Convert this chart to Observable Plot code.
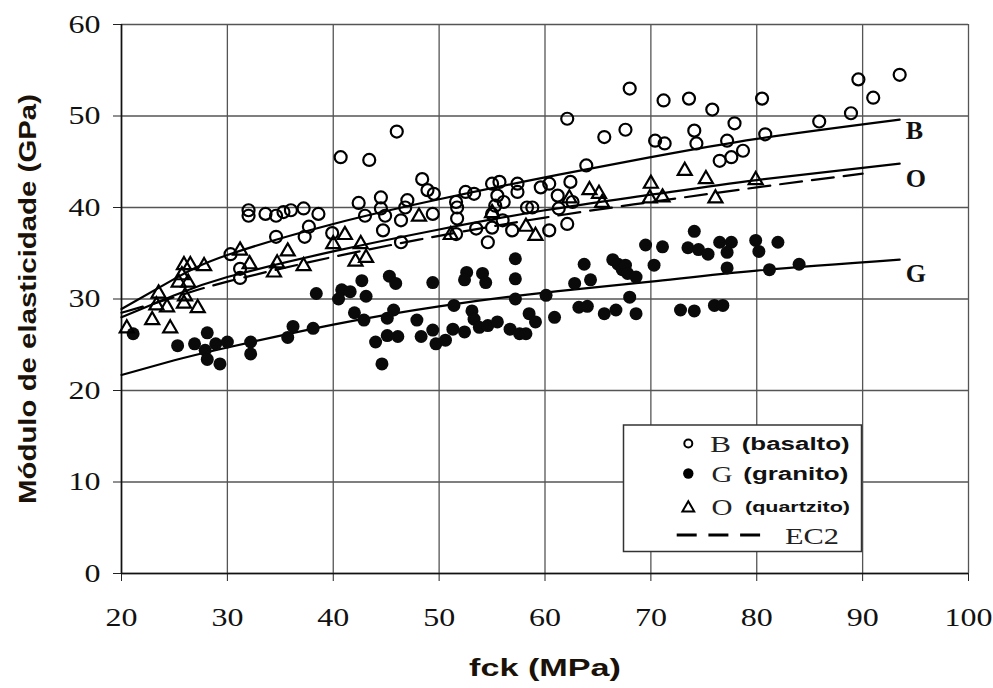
<!DOCTYPE html>
<html><head><meta charset="utf-8">
<script src="https://cdn.jsdelivr.net/npm/d3@7"></script>
<script src="https://cdn.jsdelivr.net/npm/@observablehq/plot@0.6"></script>
<style>body{margin:0;background:#fff} #chart{width:993px;height:688px}</style>
</head><body><div id="chart"></div>
<script>
const xTicks = [20, 30, 40, 50, 60, 70, 80, 90, 100];
const yTicks = [0, 10, 20, 30, 40, 50, 60];
const xTitle = "fck (MPa)";
const yTitle = "Módulo de elasticidade (GPa)";

// B (basalto) open circles: [fck, E]
const basalto = [
 [30.3,34.9],[31.2,33.3],[31.2,32.3],[32.0,39.7],[32.0,39.1],[33.6,39.3],[34.6,39.1],[35.3,39.5],
 [36.0,39.7],[37.2,39.9],[38.6,39.3],[34.6,36.8],[37.7,37.9],[37.3,36.8],[39.9,37.2],[40.7,45.5],
 [43.4,45.2],[46.0,48.3],[42.4,40.5],[43.0,39.1],[44.5,41.1],[44.5,39.9],[44.9,39.1],[44.7,37.5],
 [46.4,38.6],[46.4,36.2],[47.0,40.8],[46.8,40.0],[48.4,43.1],[48.9,41.9],[49.5,41.5],[49.4,39.3],
 [51.6,40.6],[51.7,40.0],[51.7,38.8],[51.6,37.1],[52.5,41.7],[53.3,41.5],[53.5,37.7],[54.6,36.2],
 [55.0,42.6],[55.7,42.8],[55.5,41.3],[55.3,40.2],[55.0,39.3],[55.0,37.8],[57.4,42.6],[57.4,41.7],
 [56.1,40.6],[56.0,38.6],[56.9,37.5],[58.3,40.0],[58.8,40.0],[59.6,42.2],[60.4,42.6],[61.2,41.3],
 [61.3,39.9],[62.4,42.8],[62.6,40.6],[60.4,37.5],[62.1,38.2],[63.9,44.6],[65.6,47.7],[67.6,48.5],
 [70.4,47.3],[71.3,47.0],[62.1,49.7],[68.0,53.0],[71.2,51.7],[73.6,51.9],[75.8,50.7],[80.5,51.9],
 [74.1,48.4],[74.3,47.0],[77.9,49.2],[77.2,47.3],[76.5,45.1],[77.6,45.5],[78.7,46.2],[80.8,48.0],
 [85.9,49.4],[88.9,50.3],[89.6,54.0],[91.0,52.0],[93.5,54.5]
];
// G (granito) filled circles
const granito = [
 [21.1,26.2],[25.3,24.9],[26.9,25.1],[28.1,26.3],[27.9,24.4],[28.1,23.4],[29.3,22.9],[28.9,25.1],
 [30.0,25.3],[32.2,25.3],[32.2,24.0],[35.7,25.8],[36.2,27.0],[38.1,26.8],[38.4,30.6],[40.8,31.0],
 [40.5,30.0],[41.6,30.8],[42.7,32.0],[43.1,30.3],[42.0,28.5],[42.9,27.7],[45.3,32.5],[45.9,31.7],
 [45.7,28.8],[45.1,27.9],[44.0,25.3],[45.1,26.0],[46.1,25.9],[44.6,22.9],[47.9,27.7],[48.3,25.9],
 [49.4,26.6],[49.7,25.1],[49.4,31.8],[50.6,25.5],[51.3,26.7],[51.4,29.3],[52.4,26.4],[52.6,32.9],
 [52.4,32.1],[53.1,28.7],[53.3,27.8],[54.1,32.8],[54.4,31.8],[53.8,26.9],[54.6,27.1],[55.5,27.5],
 [57.2,34.4],[57.2,32.2],[57.2,30.0],[56.7,26.7],[57.6,26.2],[58.2,26.2],[58.5,28.4],[59.1,27.5],
 [60.1,30.4],[60.9,28.0],[62.8,31.7],[63.7,33.8],[64.3,32.1],[63.2,29.1],[64.0,29.2],[65.6,28.4],
 [66.7,28.8],[66.4,34.3],[66.9,33.8],[67.3,33.2],[67.6,33.7],[67.8,32.8],[68.6,32.4],[68.0,30.2],
 [68.6,28.4],[69.5,35.9],[71.1,35.7],[70.3,33.7],[72.8,28.8],[74.1,28.7],[73.5,35.6],[74.1,37.4],
 [74.5,35.4],[75.4,34.9],[76.5,36.2],[77.6,36.2],[77.2,35.1],[79.9,36.4],[80.2,35.2],[82.0,36.2],
 [77.2,33.4],[81.2,33.2],[84.0,33.8],[76.0,29.3],[76.8,29.3]
];
// O (quartzito) triangles
const quartzito = [
 [20.5,26.8],[22.9,27.7],[24.6,26.8],[23.3,29.3],[24.3,29.1],[23.5,30.6],[25.9,29.5],[27.2,29.0],
 [26.0,30.3],[25.4,31.8],[26.3,31.8],[25.7,32.6],[25.9,33.7],[26.5,33.7],[27.8,33.6],[31.2,35.3],
 [32.1,33.8],[34.7,33.9],[34.4,32.9],[35.7,35.2],[37.2,33.6],[40.0,36.0],[41.1,37.0],[42.6,36.0],
 [42.1,34.1],[43.1,34.5],[48.1,39.0],[51.1,37.0],[55.0,39.4],[58.2,37.9],[59.1,36.9],[62.3,41.0],
 [64.2,41.9],[65.1,41.5],[65.4,40.5],[70.0,42.6],[69.9,41.0],[71.1,41.1],[73.2,44.0],[75.2,43.1],
 [76.1,41.0],[79.9,43.0]
];
// fitted curves
const curveFck = [20, 25, 30, 40, 50, 60, 70, 80, 93.5];
const curveB = [28.9, 32.2, 34.8, 38.2, 40.9, 43.3, 45.5, 47.5, 49.6];
const curveO = [28.0, 30.4, 32.4, 35.2, 37.6, 39.7, 41.4, 43.0, 44.8];
const curveG = [21.7, 23.3, 24.7, 27.2, 29.2, 30.7, 31.9, 33.1, 34.3];
const ec2Fck = [20, 25, 30, 40, 50, 60, 70, 80, 90];
const ec2E = [28.5, 30.2, 31.9, 34.6, 36.9, 38.9, 40.6, 42.2, 43.7];
const curveLabels = ["B", "O", "G"];
const legendSymbols = ["circle", "dot", "triangle", "dash"];
const legendLetters = ["B", "G", "O", "EC2"];
const legendNames = ["(basalto)", "(granito)", "(quartzito)", ""];

const toPts = (xs, ys) => xs.map((x, i) => ({fck: x, E: ys[i]}));
const pairs = a => a.map(([fck, E]) => ({fck, E}));
const curves = [curveB, curveO, curveG].map(c => toPts(curveFck, c));
const labelDy = [11, 15, 14];

const serif = "Liberation Serif";
const sans = "Liberation Sans";

const plot = Plot.plot({
  width: 993, height: 688,
  marginLeft: 121, marginRight: 25, marginTop: 24, marginBottom: 115,
  style: {fontFamily: serif, fontSize: "25px", color: "#000", background: "#fff"},
  x: {domain: [20, 100], ticks: xTicks},
  y: {domain: [0, 60], ticks: yTicks},
  marks: [
    Plot.gridX(xTicks, {stroke: "#555", strokeOpacity: 1, strokeWidth: 1.3}),
    Plot.gridY(yTicks, {stroke: "#555", strokeOpacity: 1, strokeWidth: 1.3}),
    Plot.axisX(xTicks, {tickSize: 8, tickFormat: () => "", label: null, stroke: "#222"}),
    Plot.axisY(yTicks, {tickSize: 8, tickFormat: () => "", label: null, stroke: "#222"}),
    Plot.text(xTicks, {x: d => d, y: 0, text: d => String(d), dy: 44, fontFamily: serif, fontSize: 25, fill: "#111"}),
    Plot.text(yTicks, {x: 20, y: d => d, text: d => String(d), dx: -21, textAnchor: "end", fontFamily: serif, fontSize: 25, fill: "#111"}),
    Plot.ruleX([20], {stroke: "#111", strokeWidth: 1.6}),
    Plot.ruleY([0], {stroke: "#111", strokeWidth: 1.6}),
    ...curves.map(c => Plot.line(c, {x: "fck", y: "E", curve: "natural", stroke: "#000", strokeWidth: 2.2})),
    Plot.line(toPts(ec2Fck, ec2E), {x: "fck", y: "E", curve: "natural", stroke: "#000", strokeWidth: 2.2, strokeDasharray: "22,10"}),
    Plot.dot(pairs(basalto), {x: "fck", y: "E", r: 6, stroke: "#000", strokeWidth: 2.2, fill: "none"}),
    Plot.dot(pairs(granito), {x: "fck", y: "E", r: 6.5, fill: "#0a0a0a", stroke: "none"}),
    Plot.dot(pairs(quartzito), {x: "fck", y: "E", r: 5.2, symbol: "triangle", stroke: "#000", strokeWidth: 2.2, fill: "none"}),
    ...curves.map((c, i) => Plot.text([c[c.length - 1]], {x: "fck", y: "E", text: () => curveLabels[i], dx: 6, dy: labelDy[i], textAnchor: "start", fontFamily: serif, fontWeight: "bold", fontSize: 26, fill: "#111"})),
    Plot.text([yTitle], {frameAnchor: "left", textAnchor: "middle", dx: -93, rotate: -90, fontFamily: sans, fontWeight: "bold", fontSize: 23, fill: "#1a1208"}),
    Plot.text([xTitle], {frameAnchor: "bottom", textAnchor: "middle", dy: 102, fontFamily: sans, fontWeight: "bold", fontSize: 24, fill: "#1a1208"})
  ]
});
document.getElementById("chart").appendChild(plot);

const svg = d3.select(plot);
function stretch(el, target) {
  el.setAttribute("textLength", target);
  el.setAttribute("lengthAdjust", "spacingAndGlyphs");
}
// tick labels horizontally stretched like the reference
const tickStrings = new Set([...xTicks, ...yTicks].map(String));
svg.selectAll("text").each(function() {
  const t = this.textContent.trim();
  if (tickStrings.has(t)) stretch(this, t.length * 16);
  if (t === xTitle) stretch(this, 152);
  if (t === yTitle) stretch(this, 410);
});

// legend box
const lg = svg.append("g").attr("aria-label", "legend").attr("text-anchor", "start");
lg.append("rect").attr("x", 623.5).attr("y", 425).attr("width", 238).attr("height", 126.5)
  .attr("fill", "#fff").attr("stroke", "#333").attr("stroke-width", 1.5);
const rowY = [443.5, 473.5, 508, 535];
const baseY = [451.5, 481.5, 515, 543.5];
const nameBase = [450, 480, 511.5];
legendSymbols.forEach((s, i) => {
  const y = rowY[i];
  if (s === "circle") lg.append("circle").attr("cx", 688.3).attr("cy", y).attr("r", 4).attr("fill", "none").attr("stroke", "#000").attr("stroke-width", 2);
  if (s === "dot") lg.append("circle").attr("cx", 688.3).attr("cy", y).attr("r", 5.2).attr("fill", "#000");
  if (s === "triangle") lg.append("path").attr("d", d3.symbol(d3.symbolTriangle, 60)()).attr("transform", `translate(688.3,${y})`).attr("fill", "none").attr("stroke", "#000").attr("stroke-width", 2);
  if (s === "dash") lg.append("line").attr("x1", 676.7).attr("x2", 764).attr("y1", y).attr("y2", y).attr("stroke", "#000").attr("stroke-width", 3).attr("stroke-dasharray", "20,11.7");
});
const letterX = [710, 711.5, 711.5, 785];
const letterW = [21, 21, 21, 54];
legendLetters.forEach((t, i) => {
  const el = lg.append("text").attr("x", letterX[i]).attr("y", baseY[i]).attr("text-anchor", "start").attr("font-family", serif).attr("font-size", 23).attr("fill", "#222").text(t).node();
  stretch(el, letterW[i]);
});
const nameX = [741.7, 743.3, 745];
const nameW = [108, 105, 105];
const nameSize = [18, 18, 15];
legendNames.slice(0, 3).forEach((t, i) => {
  const el = lg.append("text").attr("x", nameX[i]).attr("y", nameBase[i]).attr("text-anchor", "start").attr("font-family", sans).attr("font-weight", "bold").attr("font-size", nameSize[i]).attr("fill", "#111").text(t).node();
  stretch(el, nameW[i]);
});
</script>
</body></html>
